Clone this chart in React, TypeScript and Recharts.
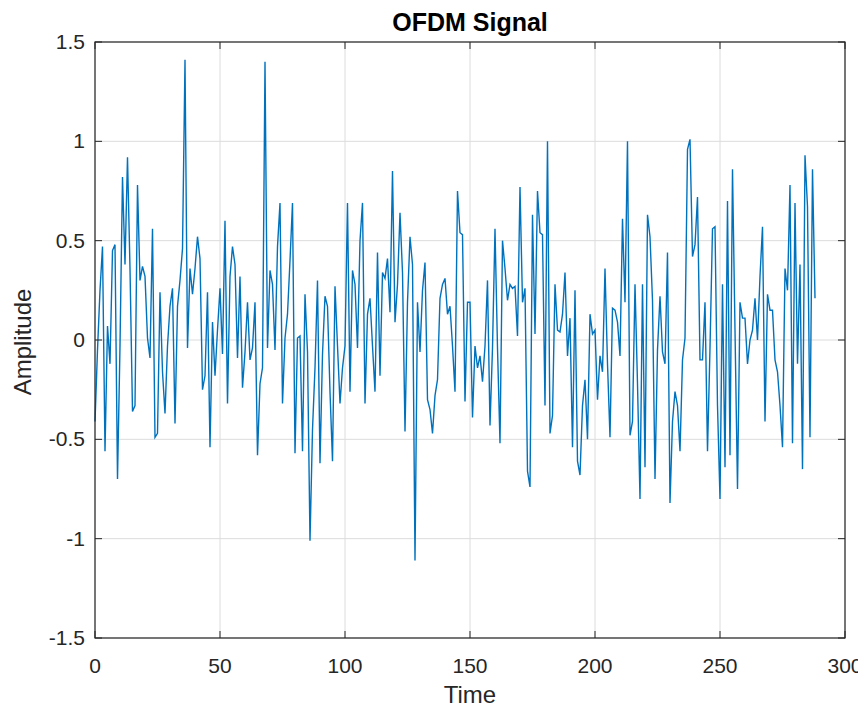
import React from "react";
import {
  CartesianGrid,
  Line,
  LineChart,
  XAxis,
  YAxis,
} from "recharts";

// sampled amplitude, one value per time step (0..288)
const amplitude = [
  -0.41, -0.05, 0.25, 0.47, -0.56, 0.07, -0.12, 0.45, 0.48, -0.7,
  -0.03, 0.82, 0.38, 0.92, 0.36, -0.36, -0.33, 0.78, 0.3, 0.37,
  0.32, 0.01, -0.09, 0.56, -0.49, -0.47, 0.24, -0.16, -0.37, -0.03,
  0.17, 0.26, -0.42, 0.17, 0.3, 0.46, 1.41, -0.04, 0.36, 0.23,
  0.36, 0.52, 0.41, -0.25, -0.18, 0.24, -0.54, 0.09, -0.18, 0.05,
  0.26, -0.07, 0.6, -0.32, 0.32, 0.47, 0.38, -0.09, 0.32, -0.24,
  -0.06, 0.19, -0.1, -0.04, 0.19, -0.58, -0.22, -0.14, 1.4, -0.04,
  0.35, 0.28, -0.05, 0.47, 0.69, -0.32, 0.01, 0.13, 0.4, 0.69,
  -0.57, 0.01, 0.02, -0.56, 0.23, -0.06, -1.01, -0.45, -0.14, 0.3,
  -0.62, -0.07, 0.22, 0.17, -0.26, -0.61, 0.27, -0.03, -0.32, -0.14,
  -0.03, 0.69, -0.26, 0.35, 0.28, -0.04, 0.5, 0.69, -0.32, 0.13,
  0.21, -0.03, -0.26, 0.44, -0.18, 0.34, 0.31, 0.41, 0.14, 0.85,
  0.09, 0.28, 0.64, 0.34, -0.46, 0.19, 0.52, 0.38, -1.11, 0.19,
  -0.06, 0.25, 0.39, -0.3, -0.35, -0.47, -0.28, -0.2, 0.21, 0.28,
  0.31, 0.13, 0.17, -0.03, -0.26, 0.75, 0.54, 0.53, -0.31, 0.19,
  0.19, -0.39, -0.03, -0.14, -0.08, -0.21, -0.03, 0.3, -0.43, -0.04,
  0.56, -0.04, -0.52, 0.5, 0.36, 0.2, 0.28, 0.26, 0.27, 0.02,
  0.77, 0.19, 0.26, -0.66, -0.74, 0.63, 0.03, 0.75, 0.54, 0.53,
  -0.33, 1.0, -0.47, -0.38, 0.28, 0.05, 0.04, 0.13, 0.34, -0.08,
  0.11, -0.54, 0.25, -0.61, -0.68, -0.33, -0.2, -0.5, 0.13, 0.03,
  0.05, -0.3, -0.08, -0.16, 0.36, -0.12, -0.49, 0.16, 0.15, 0.09,
  -0.08, 0.61, 0.19, 1.0, -0.48, -0.41, 0.28, -0.22, -0.8, 0.28,
  -0.64, 0.63, 0.52, 0.2, -0.7, -0.05, 0.22, -0.06, -0.12, 0.44,
  -0.82, -0.41, -0.26, -0.33, -0.56, -0.1, 0.01, 0.96, 1.01, 0.42,
  0.48, 0.72, -0.1, -0.1, 0.19, -0.56, -0.04, 0.56, 0.57, -0.33,
  -0.8, 0.28, -0.64, 0.7, -0.58, 0.86, 0.05, -0.75, 0.19, 0.11,
  0.11, -0.12, 0.0, 0.05, 0.21, 0.0, 0.32, 0.57, -0.41, 0.23,
  0.15, 0.15, -0.1, -0.16, -0.33, -0.54, 0.36, 0.25, 0.78, -0.52,
  0.69, -0.12, 0.38, -0.65, 0.93, 0.67, -0.49, 0.86, 0.21,
];

const xTicks = [0, 50, 100, 150, 200, 250, 300];
const yTicks = [-1.5, -1, -0.5, 0, 0.5, 1, 1.5];

const data = amplitude.map((a, i) => ({ time: i, amp: a }));

const FONT = '"Liberation Sans", Arial, Helvetica, sans-serif';
const AXIS = "#262626";

// layout
const W = 858;
const H = 700;
const MARGIN = { top: 34, right: 21, bottom: 20, left: 27 };
const Y_AXIS_W = 60;
const X_AXIS_H = 50;
const PLOT_LEFT = MARGIN.left + Y_AXIS_W;
const PLOT_TOP = MARGIN.top;
const PLOT_RIGHT = W - MARGIN.right;
const PLOT_BOTTOM = H - MARGIN.bottom - X_AXIS_H;
const TICK_LEN = 7;

// x tick: label below, inward tick marks on bottom and top edges
const XTick = (props: any) => {
  const { x, payload } = props;
  return (
    <g>
      <line x1={x} x2={x} y1={PLOT_BOTTOM} y2={PLOT_BOTTOM - TICK_LEN} stroke={AXIS} />
      <line x1={x} x2={x} y1={PLOT_TOP} y2={PLOT_TOP + TICK_LEN} stroke={AXIS} />
      <text
        x={x}
        y={PLOT_BOTTOM + 35}
        textAnchor="middle"
        fill={AXIS}
        fontSize={21}
        fontFamily={FONT}
      >
        {payload.value}
      </text>
    </g>
  );
};

// y tick: label left, inward tick marks on left and right edges
const YTick = (props: any) => {
  const { y, payload } = props;
  return (
    <g>
      <line x1={PLOT_LEFT} x2={PLOT_LEFT + TICK_LEN} y1={y} y2={y} stroke={AXIS} />
      <line x1={PLOT_RIGHT} x2={PLOT_RIGHT - TICK_LEN} y1={y} y2={y} stroke={AXIS} />
      <text
        x={PLOT_LEFT - 10}
        y={y + 7}
        textAnchor="end"
        fill={AXIS}
        fontSize={21}
        fontFamily={FONT}
      >
        {payload.value}
      </text>
    </g>
  );
};

export default function App() {
  return (
    <div style={{ position: "relative", width: W, height: H }}>
      <LineChart width={W} height={H} data={data} margin={MARGIN}>
        <CartesianGrid stroke="#dcdcdc" />
        <XAxis
          dataKey="time"
          type="number"
          domain={[0, 300]}
          ticks={xTicks}
          interval={0}
          height={X_AXIS_H}
          axisLine={false}
          tickLine={false}
          tick={XTick}
        />
        <YAxis
          type="number"
          domain={[-1.5, 1.5]}
          ticks={yTicks}
          interval={0}
          width={Y_AXIS_W}
          axisLine={false}
          tickLine={false}
          tick={YTick}
        />
        <Line
          dataKey="amp"
          type="linear"
          stroke="#0072BD"
          strokeWidth={1.4}
          dot={false}
          isAnimationActive={false}
        />
      </LineChart>
      {/* frame, title and axis labels */}
      <svg
        width={W}
        height={H}
        style={{ position: "absolute", left: 0, top: 0, pointerEvents: "none" }}
      >
        <rect
          x={PLOT_LEFT}
          y={PLOT_TOP}
          width={PLOT_RIGHT - PLOT_LEFT}
          height={PLOT_BOTTOM - PLOT_TOP}
          fill="none"
          stroke={AXIS}
          strokeWidth={1.2}
        />
        <text
          x={462}
          y={23}
          textAnchor="middle"
          fontFamily={FONT}
          fontWeight="bold"
          fontSize={25}
          fill="#000"
        >
          OFDM Signal
        </text>
        <text
          x={462}
          y={695}
          textAnchor="middle"
          fontFamily={FONT}
          fontSize={24}
          fill={AXIS}
        >
          Time
        </text>
        <text
          transform="translate(23, 334) rotate(-90)"
          textAnchor="middle"
          fontFamily={FONT}
          fontSize={24}
          fill={AXIS}
        >
          Amplitude
        </text>
      </svg>
    </div>
  );
}
